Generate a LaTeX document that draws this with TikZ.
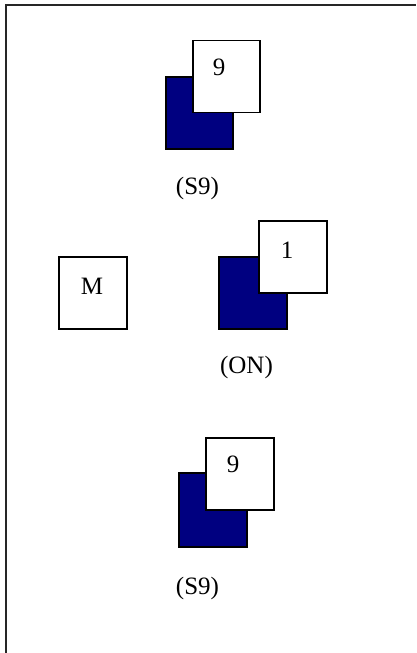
\documentclass[tikz,border=0pt]{standalone}
\usepackage{fontspec}
\setmainfont{Liberation Serif}
\begin{document}
\begin{tikzpicture}[x=1pt,y=1pt,
  sq/.style={draw=black, line width=1.4pt, inner sep=0pt, minimum width=67pt, minimum height=72pt},
  darksq/.style={sq, fill=navyc},
  whitesq/.style={sq, fill=white},
  txt/.style={inner sep=0pt, font=\fontsize{25}{29}\selectfont}]
\definecolor{navyc}{RGB}{0,0,128}
\useasboundingbox (0,0) rectangle (416,-653);
\fill[white] (0,0) rectangle (416,-653);
% frame
\draw[line width=2pt, black!85] (6,-653) -- (6,-5) -- (416,-5);
% top group
\node[darksq] (d1) at (199.5,-113) {};
\node[whitesq] (w1) at (226.5,-76.5) {};
\node[txt] (n1) at (219,-67.5) {9};
\node[txt] (l1) at (197.5,-188) {(S9)};
% middle group
\node[whitesq, minimum width=68pt] (m) at (93,-293) {};
\node[txt] (mt) at (92,-286) {M};
\node[darksq, minimum width=68pt] (d2) at (253,-293) {};
\node[whitesq, minimum width=68pt] (w2) at (293,-257) {};
\node[txt] (n2) at (287,-250) {1};
\node[txt] (l2) at (246.5,-367) {(ON)};
% bottom group
\node[darksq, minimum width=68pt, minimum height=74pt] (d3) at (213,-510) {};
\node[whitesq, minimum width=68pt] (w3) at (240,-474) {};
\node[txt] (n3) at (233,-464) {9};
\node[txt] (l3) at (197.5,-588) {(S9)};
\end{tikzpicture}
\end{document}
